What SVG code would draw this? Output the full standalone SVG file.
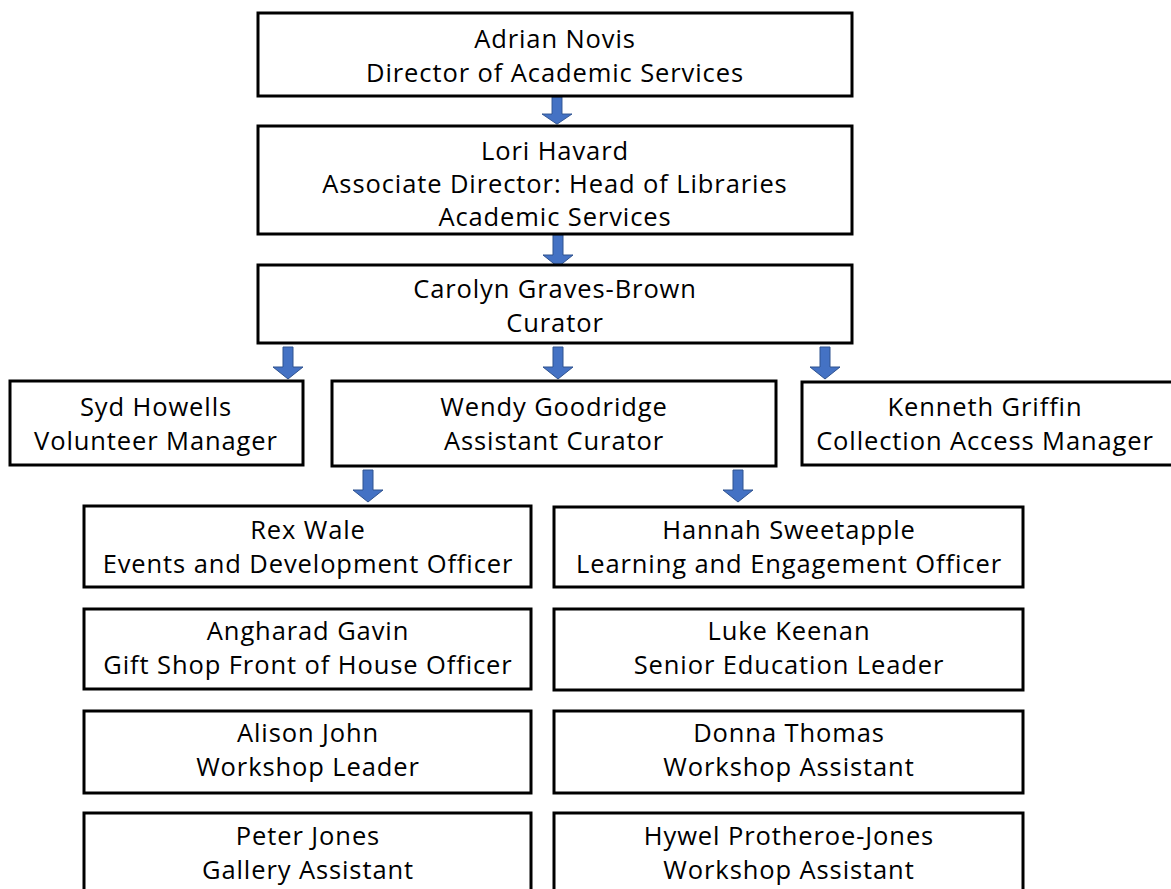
<svg xmlns="http://www.w3.org/2000/svg" width="1171" height="889" viewBox="0 0 1171 889">
<style>
.box{fill:#fff;stroke:#000;stroke-width:3}
text{font-family:"Open Sans","Liberation Sans",sans-serif;font-size:25.5px;letter-spacing:0.9px;fill:#000;text-anchor:middle}
.arr{fill:#4472C4;stroke:#2F528F;stroke-width:1}
</style>
<defs>
<path id="ar" d="M-5,0 H5 V20 H15 L0,32 L-15,20 H-5 Z"/>
</defs>
<rect width="1171" height="889" fill="#fff"/>
<g id="connectors">
<use href="#ar" class="arr" transform="translate(557,97) scale(1,0.85)"/>
<use href="#ar" class="arr" transform="translate(558,235)"/>
<use href="#ar" class="arr" transform="translate(288,347)"/>
<use href="#ar" class="arr" transform="translate(558,347)"/>
<use href="#ar" class="arr" transform="translate(825,347)"/>
<use href="#ar" class="arr" transform="translate(368,470)"/>
<use href="#ar" class="arr" transform="translate(738,470)"/>
</g>
<g id="adrian"><rect class="box" x="258" y="13" width="594" height="83"/><text x="555" y="48">Adrian Novis</text><text x="555" y="82">Director of Academic Services</text></g>
<g id="lori"><rect class="box" x="258" y="126" width="594" height="108"/><text x="555" y="160">Lori Havard</text><text x="555" y="193">Associate Director: Head of Libraries</text><text x="555" y="226">Academic Services</text></g>
<g id="carolyn"><rect class="box" x="258" y="265" width="594" height="78"/><text x="555" y="298">Carolyn Graves-Brown</text><text x="555" y="332">Curator</text></g>
<g id="syd"><rect class="box" x="10" y="381" width="293" height="84"/><text x="156" y="416">Syd Howells</text><text x="156" y="450">Volunteer Manager</text></g>
<g id="wendy"><rect class="box" x="332" y="381" width="444" height="85"/><text x="554" y="416">Wendy Goodridge</text><text x="554" y="450">Assistant Curator</text></g>
<g id="kenneth"><rect class="box" x="802" y="382" width="380" height="83"/><text x="985" y="416">Kenneth Griffin</text><text x="985" y="450">Collection Access Manager</text></g>
<g id="rex"><rect class="box" x="84" y="506" width="447" height="81"/><text x="308" y="539">Rex Wale</text><text x="308" y="573">Events and Development Officer</text></g>
<g id="hannah"><rect class="box" x="554" y="507" width="469" height="80"/><text x="789" y="539">Hannah Sweetapple</text><text x="789" y="573">Learning and Engagement Officer</text></g>
<g id="angharad"><rect class="box" x="84" y="609" width="447" height="80"/><text x="308" y="640">Angharad Gavin</text><text x="308" y="674">Gift Shop Front of House Officer</text></g>
<g id="luke"><rect class="box" x="554" y="609" width="469" height="81"/><text x="789" y="640">Luke Keenan</text><text x="789" y="674">Senior Education Leader</text></g>
<g id="alison"><rect class="box" x="84" y="711" width="447" height="82"/><text x="308" y="742">Alison John</text><text x="308" y="776">Workshop Leader</text></g>
<g id="donna"><rect class="box" x="554" y="711" width="469" height="82"/><text x="789" y="742">Donna Thomas</text><text x="789" y="776">Workshop Assistant</text></g>
<g id="peter"><rect class="box" x="84" y="813" width="447" height="90"/><text x="308" y="845">Peter Jones</text><text x="308" y="879">Gallery Assistant</text></g>
<g id="hywel"><rect class="box" x="554" y="813" width="469" height="90"/><text x="789" y="845">Hywel Protheroe-Jones</text><text x="789" y="879">Workshop Assistant</text></g>
</svg>
